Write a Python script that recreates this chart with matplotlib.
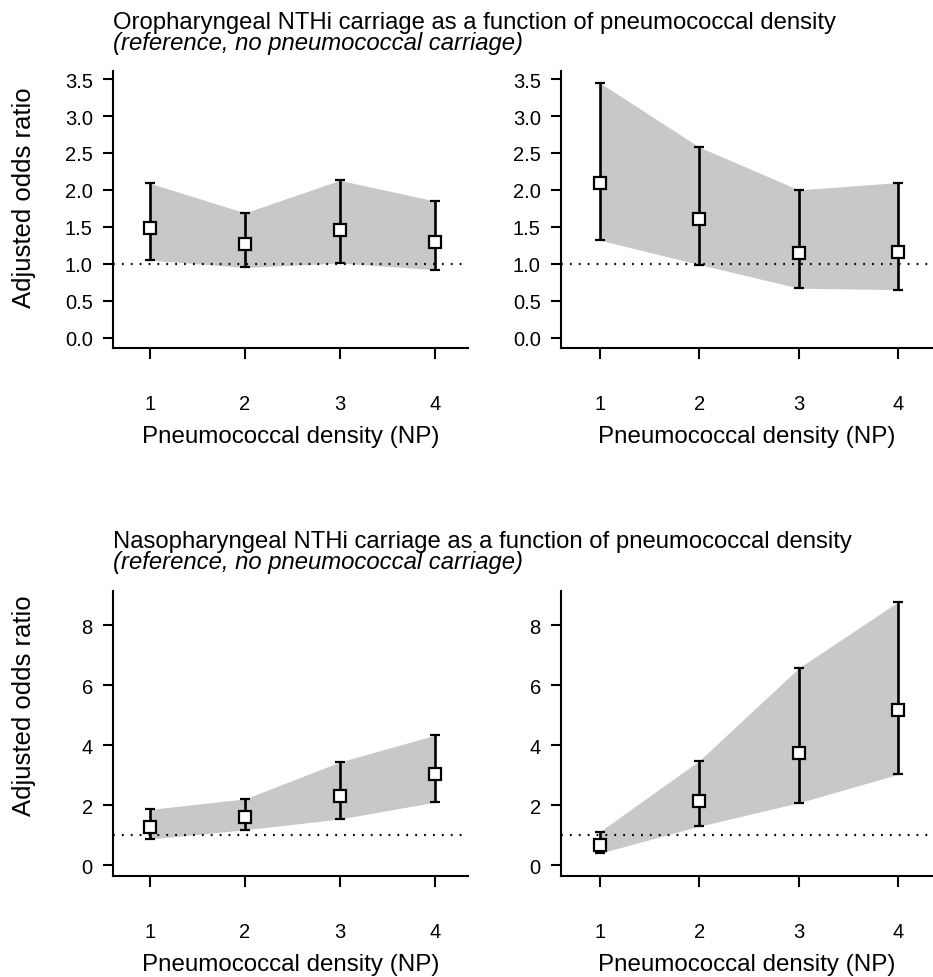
import numpy as np
import matplotlib.pyplot as plt

plt.rcParams['font.family'] = ['Liberation Sans', 'DejaVu Sans']

density = [1, 2, 3, 4]

# oropharyngeal NTHi, left / right panel
oro_l_est = [1.48, 1.27, 1.46, 1.30]
oro_l_lo = [1.05, 0.95, 1.01, 0.92]
oro_l_hi = [2.09, 1.69, 2.13, 1.85]
oro_r_est = [2.10, 1.60, 1.15, 1.16]
oro_r_lo = [1.32, 0.99, 0.67, 0.65]
oro_r_hi = [3.45, 2.58, 2.00, 2.10]

# nasopharyngeal NTHi, left / right panel
naso_l_est = [1.28, 1.62, 2.32, 3.03]
naso_l_lo = [0.87, 1.18, 1.54, 2.10]
naso_l_hi = [1.86, 2.21, 3.44, 4.33]
naso_r_est = [0.67, 2.14, 3.73, 5.17]
naso_r_lo = [0.40, 1.30, 2.08, 3.03]
naso_r_hi = [1.12, 3.48, 6.57, 8.78]

oro_ticks = [0, 0.5, 1, 1.5, 2, 2.5, 3, 3.5]
naso_ticks = [0, 2, 4, 6, 8]

W, H = 933, 978
fig = plt.figure(figsize=(W / 100, H / 100), dpi=100)


def px(x0, y0, x1, y1):
    # pixel box -> figure fraction
    return [x0 / W, 1 - y1 / H, (x1 - x0) / W, (y1 - y0) / H]


def panel(rect, est, lo, hi, ticks, ylim, fmt):
    ax = fig.add_axes(rect)
    x = np.array(density)
    est, lo, hi = np.array(est), np.array(lo), np.array(hi)
    ax.fill_between(x, lo, hi, color='#c8c8c8', lw=0, zorder=1)
    ax.axhline(1, color='black', lw=1.6, ls=(0, (0.8, 3.2)), zorder=2)
    ax.errorbar(x, est, yerr=[est - lo, hi - est], fmt='s', color='black',
                ecolor='black', elinewidth=1.9, capsize=3.5, capthick=1.9,
                mfc='white', mec='black', mew=1.6, ms=8.5, zorder=3)
    ax.set_xlim(0.61, 4.35)
    ax.set_ylim(*ylim)
    ax.set_xticks(density)
    ax.set_yticks(ticks)
    ax.set_yticklabels([fmt.format(t) for t in ticks])
    for s in ['top', 'right']:
        ax.spines[s].set_visible(False)
    for s in ['left', 'bottom']:
        ax.spines[s].set_linewidth(1.5)
    ax.tick_params(axis='y', length=7.5, width=1.5, pad=7, labelsize=14.5)
    ax.tick_params(axis='x', length=8, width=1.5, pad=25, labelsize=14.5)
    ax.set_xlabel('Pneumococcal density (NP)', fontsize=17.4, labelpad=9)
    return ax


panel(px(113, 72, 468, 349), oro_l_est, oro_l_lo, oro_l_hi, oro_ticks,
      (-0.14, 3.61), '{:.1f}')
panel(px(561, 72, 933, 349), oro_r_est, oro_r_lo, oro_r_hi, oro_ticks,
      (-0.14, 3.61), '{:.1f}')
panel(px(113, 592, 468, 877), naso_l_est, naso_l_lo, naso_l_hi, naso_ticks,
      (-0.36, 9.14), '{:g}')
panel(px(561, 592, 933, 877), naso_r_est, naso_r_lo, naso_r_hi, naso_ticks,
      (-0.36, 9.14), '{:g}')

titles = [('Oropharyngeal NTHi carriage as a function of pneumococcal density', 29),
          ('Nasopharyngeal NTHi carriage as a function of pneumococcal density', 548)]
for t, y in titles:
    fig.text(113 / W, 1 - y / H, t, fontsize=17.2, ha='left', va='baseline')
    fig.text(113 / W, 1 - (y + 21) / H, '(reference, no pneumococcal carriage)',
             fontsize=17.2, style='italic', ha='left', va='baseline')

for y in [198, 706]:
    fig.text(24 / W, 1 - y / H, 'Adjusted odds ratio', fontsize=18.5,
             rotation=90, ha='center', va='center')

fig.savefig('out.png', dpi=100)
